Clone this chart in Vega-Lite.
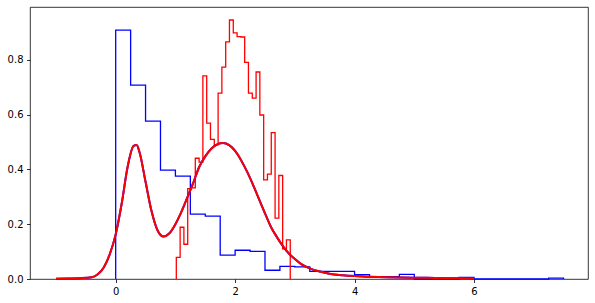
{
  "$schema": "https://vega.github.io/schema/vega-lite/v6.json",
  "width": 558,
  "height": 272,
  "autosize": "none",
  "padding": {"left": 30, "top": 7, "right": 7, "bottom": 24},
  "background": "white",
  "config": {
    "view": {"stroke": "black", "strokeWidth": 0.8},
    "axis": {
      "domain": false,
      "grid": false,
      "ticks": true,
      "tickColor": "black",
      "tickSize": 3.5,
      "tickWidth": 0.8,
      "labelFont": "DejaVu Sans",
      "labelFontSize": 10,
      "labelColor": "black",
      "labelPadding": 3.5,
      "title": null
    }
  },
  "datasets": {
    "blue_hist": [
      {"i": 0, "x": 0, "y": 0},
      {"i": 1, "x": 0, "y": 0.909},
      {"i": 2, "x": 0.25, "y": 0.708},
      {"i": 3, "x": 0.5, "y": 0.577},
      {"i": 4, "x": 0.75, "y": 0.398},
      {"i": 5, "x": 1.0, "y": 0.376},
      {"i": 6, "x": 1.25, "y": 0.237},
      {"i": 7, "x": 1.5, "y": 0.230},
      {"i": 8, "x": 1.75, "y": 0.087},
      {"i": 9, "x": 2.0, "y": 0.105},
      {"i": 10, "x": 2.25, "y": 0.101},
      {"i": 11, "x": 2.5, "y": 0.032},
      {"i": 12, "x": 2.75, "y": 0.046},
      {"i": 13, "x": 3.0, "y": 0.044},
      {"i": 14, "x": 3.25, "y": 0.028},
      {"i": 15, "x": 3.5, "y": 0.028},
      {"i": 16, "x": 3.75, "y": 0.028},
      {"i": 17, "x": 4.0, "y": 0.016},
      {"i": 18, "x": 4.25, "y": 0.0085},
      {"i": 19, "x": 4.5, "y": 0.0085},
      {"i": 20, "x": 4.75, "y": 0.017},
      {"i": 21, "x": 5.0, "y": 0},
      {"i": 22, "x": 5.25, "y": 0},
      {"i": 23, "x": 5.5, "y": 0},
      {"i": 24, "x": 5.75, "y": 0.006},
      {"i": 25, "x": 6.0, "y": 0},
      {"i": 26, "x": 6.25, "y": 0},
      {"i": 27, "x": 6.5, "y": 0},
      {"i": 28, "x": 6.75, "y": 0},
      {"i": 29, "x": 7.0, "y": 0},
      {"i": 30, "x": 7.25, "y": 0.003},
      {"i": 31, "x": 7.5, "y": 0}
    ],
    "red_hist": [
      {"i": 0, "x": 1.015, "y": 0},
      {"i": 1, "x": 1.015, "y": 0.079},
      {"i": 2, "x": 1.079, "y": 0.189},
      {"i": 3, "x": 1.142, "y": 0.127},
      {"i": 4, "x": 1.206, "y": 0.330},
      {"i": 5, "x": 1.269, "y": 0.333},
      {"i": 6, "x": 1.333, "y": 0.441},
      {"i": 7, "x": 1.397, "y": 0.427},
      {"i": 8, "x": 1.460, "y": 0.742},
      {"i": 9, "x": 1.524, "y": 0.569},
      {"i": 10, "x": 1.587, "y": 0.510},
      {"i": 11, "x": 1.651, "y": 0.490},
      {"i": 12, "x": 1.715, "y": 0.679},
      {"i": 13, "x": 1.778, "y": 0.774},
      {"i": 14, "x": 1.842, "y": 0.866},
      {"i": 15, "x": 1.905, "y": 0.946},
      {"i": 16, "x": 1.969, "y": 0.899},
      {"i": 17, "x": 2.033, "y": 0.885},
      {"i": 18, "x": 2.096, "y": 0.884},
      {"i": 19, "x": 2.160, "y": 0.791},
      {"i": 20, "x": 2.223, "y": 0.679},
      {"i": 21, "x": 2.287, "y": 0.661},
      {"i": 22, "x": 2.351, "y": 0.756},
      {"i": 23, "x": 2.414, "y": 0.599},
      {"i": 24, "x": 2.478, "y": 0.362},
      {"i": 25, "x": 2.541, "y": 0.383},
      {"i": 26, "x": 2.605, "y": 0.535},
      {"i": 27, "x": 2.669, "y": 0.222},
      {"i": 28, "x": 2.732, "y": 0.378},
      {"i": 29, "x": 2.796, "y": 0.110},
      {"i": 30, "x": 2.859, "y": 0.143},
      {"i": 31, "x": 2.923, "y": 0}
    ],
    "kde": [
      {"i": 0, "x": -1.0, "y": 0.001},
      {"i": 1, "x": -0.8, "y": 0.002},
      {"i": 2, "x": -0.6, "y": 0.003},
      {"i": 3, "x": -0.4, "y": 0.006},
      {"i": 4, "x": -0.3, "y": 0.017},
      {"i": 5, "x": -0.2, "y": 0.042},
      {"i": 6, "x": -0.1, "y": 0.090},
      {"i": 7, "x": 0.0, "y": 0.163},
      {"i": 8, "x": 0.1, "y": 0.275},
      {"i": 9, "x": 0.2, "y": 0.410},
      {"i": 10, "x": 0.3, "y": 0.486},
      {"i": 11, "x": 0.35, "y": 0.489},
      {"i": 12, "x": 0.4, "y": 0.462},
      {"i": 13, "x": 0.5, "y": 0.355},
      {"i": 14, "x": 0.6, "y": 0.248},
      {"i": 15, "x": 0.7, "y": 0.178},
      {"i": 16, "x": 0.8, "y": 0.155},
      {"i": 17, "x": 0.9, "y": 0.167},
      {"i": 18, "x": 1.0, "y": 0.200},
      {"i": 19, "x": 1.1, "y": 0.245},
      {"i": 20, "x": 1.2, "y": 0.298},
      {"i": 21, "x": 1.3, "y": 0.352},
      {"i": 22, "x": 1.4, "y": 0.410},
      {"i": 23, "x": 1.5, "y": 0.448},
      {"i": 24, "x": 1.6, "y": 0.476},
      {"i": 25, "x": 1.7, "y": 0.492},
      {"i": 26, "x": 1.8, "y": 0.497},
      {"i": 27, "x": 1.9, "y": 0.489},
      {"i": 28, "x": 2.0, "y": 0.468},
      {"i": 29, "x": 2.1, "y": 0.434},
      {"i": 30, "x": 2.2, "y": 0.392},
      {"i": 31, "x": 2.3, "y": 0.344},
      {"i": 32, "x": 2.4, "y": 0.292},
      {"i": 33, "x": 2.5, "y": 0.240},
      {"i": 34, "x": 2.6, "y": 0.190},
      {"i": 35, "x": 2.7, "y": 0.153},
      {"i": 36, "x": 2.8, "y": 0.120},
      {"i": 37, "x": 2.9, "y": 0.093},
      {"i": 38, "x": 3.0, "y": 0.073},
      {"i": 39, "x": 3.1, "y": 0.055},
      {"i": 40, "x": 3.25, "y": 0.039},
      {"i": 41, "x": 3.4, "y": 0.028},
      {"i": 42, "x": 3.6, "y": 0.018},
      {"i": 43, "x": 3.8, "y": 0.014},
      {"i": 44, "x": 4.0, "y": 0.011},
      {"i": 45, "x": 4.4, "y": 0.007},
      {"i": 46, "x": 5.0, "y": 0.005},
      {"i": 47, "x": 5.5, "y": 0.003},
      {"i": 48, "x": 6.0, "y": 0.002}
    ]
  },
  "encoding": {
    "x": {
      "field": "x",
      "type": "quantitative",
      "scale": {"domain": [-1.435, 7.909], "nice": false, "zero": false},
      "axis": {"values": [0, 2, 4, 6], "format": "d"}
    },
    "y": {
      "field": "y",
      "type": "quantitative",
      "scale": {"domain": [0, 0.9935], "nice": false, "zero": false},
      "axis": {"values": [0, 0.2, 0.4, 0.6, 0.8], "format": ".1f"}
    },
    "order": {"field": "i", "type": "quantitative"}
  },
  "layer": [
    {
      "data": {"name": "blue_hist"},
      "mark": {"type": "line", "interpolate": "step-after", "color": "#0000ff", "strokeWidth": 1.3}
    },
    {
      "data": {"name": "red_hist"},
      "mark": {"type": "line", "interpolate": "step-after", "color": "#ff0000", "strokeWidth": 1.3}
    },
    {
      "data": {"name": "kde"},
      "mark": {"type": "line", "interpolate": "monotone", "color": "#0000ff", "strokeWidth": 2}
    },
    {
      "data": {"name": "kde"},
      "mark": {"type": "line", "interpolate": "monotone", "color": "#ff0000", "strokeWidth": 2}
    }
  ]
}
